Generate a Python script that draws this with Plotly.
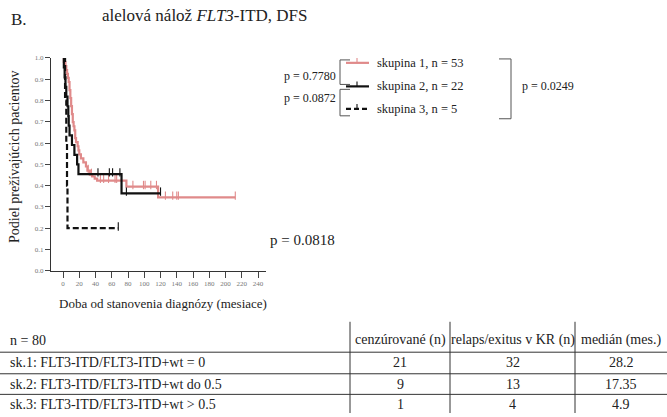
import plotly.graph_objects as go

W, H = 667, 417
FONT = "Liberation Serif"

# Kaplan-Meier estimates: event times (months) and survival after each step
g1_t = [0, 1, 3, 4, 5, 6, 7, 8, 9, 10, 11, 12, 13, 14, 15, 16, 18, 19, 20, 22, 25,
        28.2, 30, 33, 36, 39, 42, 78, 117, 212]
g1_s = [1.0, .981, .962, .943, .925, .906, .887, .849, .811, .774, .736, .698, .679,
        .660, .623, .604, .585, .566, .547, .528, .509, .490, .471, .452, .443, .433,
        .424, .395, .345, .345]
g1_cens = [31, 35, 46, 50, 56, 64, 66, 86, 99, 101, 108, 115, 126, 135, 140, 142, 212]

g2_t = [0, 1, 2, 3, 4, 5.5, 6.5, 7, 8, 11, 14, 17.35, 19, 72, 120]
g2_s = [1.0, .955, .909, .864, .818, .773, .727, .682, .636, .591, .545, .500, .4545,
        .364, .364]
g2_cens = [43, 57, 61, 70, 78, 120]

g3_t = [0, 2.5, 4, 4.9, 5.5, 68]
g3_s = [1.0, .8, .6, .4, .2, .2]
g3_cens = [68]

group_labels = ["skupina 1, n = 53", "skupina 2, n = 22", "skupina 3, n = 5"]
x_ticks = list(range(0, 241, 20))
y_ticks = [i / 10 for i in range(11)]

p_12, p_23, p_13, p_all = "p = 0.7780", "p = 0.0872", "p = 0.0249", "p = 0.0818"

table_header = ["n = 80", "cenzúrované (n)", "relaps/exitus v KR (n)", "medián (mes.)"]
row_labels = ["sk.1: FLT3-ITD/FLT3-ITD+wt = 0",
              "sk.2: FLT3-ITD/FLT3-ITD+wt do 0.5",
              "sk.3: FLT3-ITD/FLT3-ITD+wt &gt; 0.5"]
censored_n = [21, 9, 1]
events_n = [32, 13, 4]
median_months = ["28.2", "17.35", "4.9"]

RED = "#e08a8a"
BLACK = "#111111"


def surv_at(times, surv, t):
    s = surv[0]
    for ti, si in zip(times, surv):
        if ti <= t:
            s = si
    return s


def px(x):
    return x / W


def py(y):
    return 1 - y / H


fig = go.Figure()

series = [
    (g1_t, g1_s, g1_cens, RED, "solid"),
    (g2_t, g2_s, g2_cens, BLACK, "solid"),
    (g3_t, g3_s, g3_cens, BLACK, "6px,3px"),
]
for t, s, cens, col, dash in series:
    fig.add_trace(go.Scatter(
        x=t, y=s, mode="lines", line=dict(color=col, width=2.2, dash=dash, shape="hv"),
        cliponaxis=False, showlegend=False, hoverinfo="skip"))
    fig.add_trace(go.Scatter(
        x=cens, y=[surv_at(t, s, c) + 0.008 for c in cens], mode="markers",
        marker=dict(symbol="line-ns", size=6, line=dict(color=col, width=1.1)),
        cliponaxis=False, showlegend=False, hoverinfo="skip"))

fig.update_layout(
    width=W, height=H,
    margin=dict(l=0, r=0, t=0, b=0),
    paper_bgcolor="white", plot_bgcolor="white",
    font=dict(family=FONT, color="#222"),
    xaxis=dict(domain=[px(51), px(266)], range=[-14.8, 249.8], tickvals=x_ticks,
               ticks="outside", ticklen=6, tickcolor="#444", showline=True,
               linecolor="#333", linewidth=1, showgrid=False, zeroline=False,
               tickfont=dict(size=7, color="#777"), anchor="y"),
    yaxis=dict(domain=[py(272), py(55)], range=[0, 1.0], tickvals=y_ticks,
               ticktext=[f"{v:.1f}" for v in y_ticks],
               ticks="outside", ticklen=5, tickcolor="#444", showline=True,
               linecolor="#333", linewidth=1, showgrid=False, zeroline=False,
               tickfont=dict(size=7, color="#777"), anchor="x"),
)

ann = []


def text(x, y, s, size, xanchor="left", color="#222"):
    ann.append(dict(x=px(x), y=py(y), xref="paper", yref="paper", text=s,
                    showarrow=False, xanchor=xanchor, yanchor="middle",
                    font=dict(family=FONT, size=size, color=color)))


# headings
text(9, 16, "B.", 17)
text(100, 12, "alelová nálož <i>FLT3</i>-ITD, DFS", 17)

# axis titles
text(163, 305, "Doba od stanovenia diagnózy (mesiace)", 13, "center")
ann.append(dict(x=px(14), y=py(156), xref="paper", yref="paper",
                text="Podiel prežívajúcich pacientov",
                textangle=-90, showarrow=False, xanchor="center", yanchor="middle",
                font=dict(family=FONT, size=14, color="#222")))

# legend
shapes = []
leg_y = [60, 84, 107]
leg_style = [(RED, "solid"), (BLACK, "solid"), (BLACK, "5px,3px")]
for yy, lab, (col, dash) in zip(leg_y, group_labels, leg_style):
    shapes.append(dict(type="line", xref="paper", yref="paper", x0=px(346), x1=px(369),
                       y0=py(yy), y1=py(yy), line=dict(color=col, width=2.2, dash=dash)))
    shapes.append(dict(type="line", xref="paper", yref="paper", x0=px(357), x1=px(357),
                       y0=py(yy), y1=py(yy - 5), line=dict(color=col, width=1.1)))
    text(375, yy, lab, 12.5)


def bracket(x, y0, y1, arm):
    for a, b, c, d in [(x, y0, x, y1), (x, y0, x + arm, y0), (x, y1, x + arm, y1)]:
        shapes.append(dict(type="line", xref="paper", yref="paper", x0=px(a), y0=py(b),
                           x1=px(c), y1=py(d), line=dict(color="#555", width=1)))


bracket(340, 57, 82, 10)
bracket(340, 87, 114, 10)
bracket(511, 56, 117, -12)
text(338, 73, p_12, 12, "right")
text(338, 96, p_23, 12, "right")
text(520, 84, p_13, 12)
text(268, 241, p_all, 15)

# summary table
col_edges = [350, 450, 575]
row_lines = [355, 377, 398]
for x in col_edges:
    shapes.append(dict(type="line", xref="paper", yref="paper", x0=px(x), x1=px(x),
                       y0=py(324), y1=py(417), line=dict(color="#333", width=1)))
for y in row_lines:
    shapes.append(dict(type="line", xref="paper", yref="paper", x0=0, x1=1,
                       y0=py(y), y1=py(y), line=dict(color="#333", width=1)))

col_centers = [400, 512.5, 621]
text(8, 343, table_header[0], 14)
for cx, h in zip(col_centers, table_header[1:]):
    text(cx, 343, h, 14, "center")
row_y = [366, 388, 408]
for yy, lab, c, e, m in zip(row_y, row_labels, censored_n, events_n, median_months):
    text(8, yy, lab, 14)
    text(col_centers[0], yy, str(c), 14, "center")
    text(col_centers[1], yy, str(e), 14, "center")
    text(col_centers[2], yy, m, 14, "center")

fig.update_layout(annotations=ann, shapes=shapes)
fig.write_html("out.html")
